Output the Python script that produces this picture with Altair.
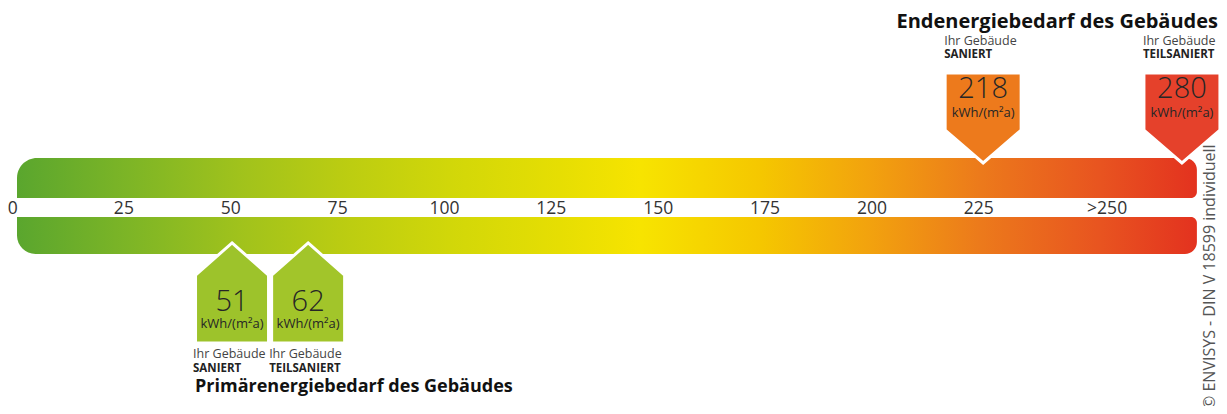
import altair as alt
import pandas as pd

# ---- data ----
tick_labels = ["0", "25", "50", "75", "100", "125", "150", "175", "200", "225", ">250"]
tick_positions = [-1, 25, 50, 75, 100, 125, 150, 175, 200, 225, 255]

bar_start = [0]
bar_end = [276]

end_values = [218, 280]                      # Endenergiebedarf
end_status = ["SANIERT", "TEILSANIERT"]
end_positions = [226, 272.5]
end_colors = ["#ed7a1c", "#e5412b"]

prim_values = [51, 62]                       # Primärenergiebedarf
prim_status = ["SANIERT", "TEILSANIERT"]
prim_positions = [50.3, 68.1]
prim_colors = ["#9dc32b", "#a2c52a"]

unit = "kWh/(m²a)"
FONT = "Open Sans"
TXT = "#262626"

gradient = {
    "gradient": "linear", "x1": 0, "x2": 1, "y1": 0, "y2": 0,
    "stops": [
        {"offset": 0.0, "color": "#5aa62e"},
        {"offset": 0.095, "color": "#7db526"},
        {"offset": 0.188, "color": "#a0c21c"},
        {"offset": 0.273, "color": "#bacc12"},
        {"offset": 0.366, "color": "#d1d709"},
        {"offset": 0.46, "color": "#e6de03"},
        {"offset": 0.528, "color": "#f7e400"},
        {"offset": 0.63, "color": "#f5c700"},
        {"offset": 0.723, "color": "#f2a20e"},
        {"offset": 0.816, "color": "#ec7a1b"},
        {"offset": 0.918, "color": "#e85420"},
        {"offset": 1.0, "color": "#e3321f"},
    ],
}

xscale = alt.Scale(domain=[-2.105, 281.17], nice=False, zero=False)
X = lambda f: alt.X(f, type="quantitative", scale=xscale, axis=None)

bar_df = pd.DataFrame({"start": bar_start, "end": bar_end})
ticks_df = pd.DataFrame({"pos": tick_positions, "label": tick_labels})
end_df = pd.DataFrame({"pos": end_positions, "value": end_values, "status": end_status,
                       "color": end_colors, "unit": unit, "ihr": "Ihr Gebäude"})
prim_df = pd.DataFrame({"pos": prim_positions, "value": prim_values, "status": prim_status,
                        "color": prim_colors, "unit": unit, "ihr": "Ihr Gebäude"})

upper = alt.Chart(bar_df).mark_bar(
    color=gradient, cornerRadiusTopLeft=21, cornerRadiusTopRight=12,
    cornerRadiusBottomRight=6, cornerRadiusBottomLeft=0
).encode(x=X("start"), x2="end", y=alt.value(150), y2=alt.value(190))

lower = alt.Chart(bar_df).mark_bar(
    color=gradient, cornerRadiusBottomLeft=21, cornerRadiusBottomRight=12,
    cornerRadiusTopRight=6, cornerRadiusTopLeft=0
).encode(x=X("start"), x2="end", y=alt.value(209), y2=alt.value(246))

ticks = alt.Chart(ticks_df).mark_text(
    font=FONT, fontSize=17.5, color="#333333", baseline="middle", align="center"
).encode(x=X("pos"), y=alt.value(201), text="label:N")

# pentagon pointing down (Endenergie markers)
down_path = "M-1,-1.184L1,-1.184L1,0.316L0,1.184L-1,0.316Z"
end_marker = alt.Chart(end_df).mark_point(
    shape=down_path, size=38 * 38 * 4, filled=True, opacity=1,
    stroke="white", strokeWidth=3
).encode(x=X("pos"), y=alt.value(110), fill=alt.Fill("color:N", scale=None))

end_num = alt.Chart(end_df).mark_text(font=FONT, fontSize=29, fontWeight=300, color=TXT,
                                      baseline="middle").encode(
    x=X("pos"), y=alt.value(81), text="value:Q")
end_unit = alt.Chart(end_df).mark_text(font=FONT, fontSize=13, color=TXT, baseline="middle").encode(
    x=X("pos"), y=alt.value(105), text="unit:N")
end_ihr = alt.Chart(end_df).mark_text(font=FONT, fontSize=12.5, color="#444444", baseline="middle",
                                      align="left", dx=-39).encode(
    x=X("pos"), y=alt.value(33), text="ihr:N")
end_stat = alt.Chart(end_df).mark_text(font=FONT, fontSize=11.5, fontWeight="bold", color="#222222",
                                       baseline="middle", align="left", dx=-39).encode(
    x=X("pos"), y=alt.value(47), text="status:N")

# pentagon pointing up (Primärenergie markers)
up_path = "M0,-1.370L1,-0.493L1,1.370L-1,1.370L-1,-0.493Z"
prim_marker = alt.Chart(prim_df).mark_point(
    shape=up_path, size=36.5 * 36.5 * 4, filled=True, opacity=1,
    stroke="white", strokeWidth=3
).encode(x=X("pos"), y=alt.value(285), fill=alt.Fill("color:N", scale=None))

prim_num = alt.Chart(prim_df).mark_text(font=FONT, fontSize=29, fontWeight=300, color=TXT,
                                        baseline="middle").encode(
    x=X("pos"), y=alt.value(294), text="value:Q")
prim_unit = alt.Chart(prim_df).mark_text(font=FONT, fontSize=13, color=TXT, baseline="middle").encode(
    x=X("pos"), y=alt.value(316), text="unit:N")
prim_ihr = alt.Chart(prim_df).mark_text(font=FONT, fontSize=12.5, color="#444444", baseline="middle",
                                        align="left", dx=-39).encode(
    x=X("pos"), y=alt.value(346), text="ihr:N")
prim_stat = alt.Chart(prim_df).mark_text(font=FONT, fontSize=11.5, fontWeight="bold", color="#222222",
                                         baseline="middle", align="left", dx=-39).encode(
    x=X("pos"), y=alt.value(361), text="status:N")

titles_df = pd.DataFrame({"t": ["Endenergiebedarf des Gebäudes"]})
end_title = alt.Chart(titles_df).mark_text(
    font=FONT, fontSize=20, fontWeight="bold", color="#111111", align="right", baseline="middle"
).encode(x=alt.value(1210), y=alt.value(14), text="t:N")

prim_title_df = pd.DataFrame({"t": ["Primärenergiebedarf des Gebäudes"]})
prim_title = alt.Chart(prim_title_df).mark_text(
    font=FONT, fontSize=18, fontWeight="bold", color="#111111", align="left", baseline="middle"
).encode(x=alt.value(187), y=alt.value(379), text="t:N")

copy_df = pd.DataFrame({"t": ["© ENVISYS - DIN V 18599 individuell"]})
copyright_txt = alt.Chart(copy_df).mark_text(
    font=FONT, fontSize=16, color="#555555", align="left", baseline="middle", angle=270
).encode(x=alt.value(1202), y=alt.value(401), text="t:N")

chart = alt.layer(
    upper, lower, ticks,
    end_marker, end_num, end_unit, end_ihr, end_stat,
    prim_marker, prim_num, prim_unit, prim_ihr, prim_stat,
    end_title, prim_title, copyright_txt
).properties(
    width=1211, height=398, padding=0, autosize="none", background="white"
).configure_view(strokeWidth=0)

chart.save("out.html", embed_options={"renderer": "svg", "actions": False})
